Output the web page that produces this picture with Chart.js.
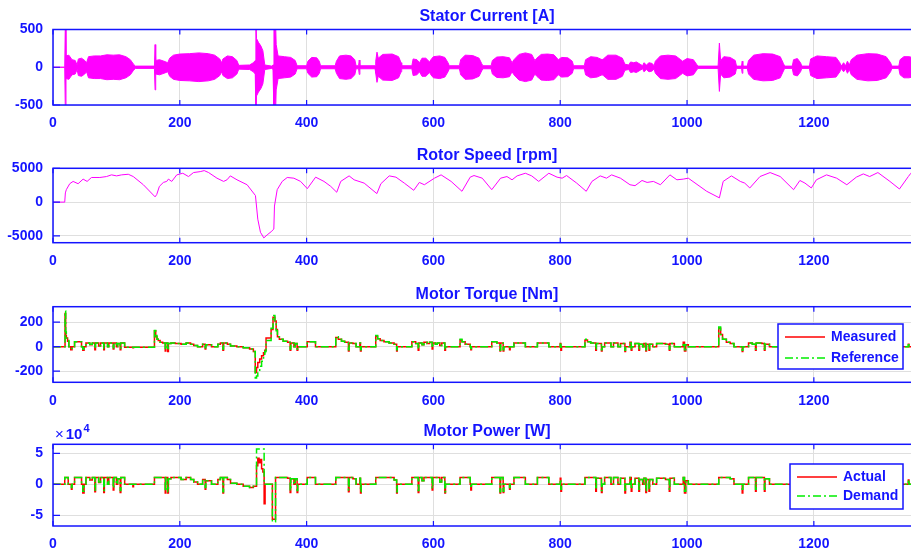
<!DOCTYPE html>
<html>
<head>
<meta charset="utf-8">
<script src="https://cdn.jsdelivr.net/npm/chart.js@4.4.1/dist/chart.umd.min.js"></script>
<style>
  html, body { margin: 0; padding: 0; background: #fff; }
  body { width: 911px; height: 555px; position: relative; overflow: hidden; }
  canvas { position: absolute; left: 0; display: block; }
</style>
</head>
<body>
<canvas id="current" width="925" height="136" style="top:0"></canvas>
<canvas id="speed" width="925" height="140" style="top:136px"></canvas>
<canvas id="torque" width="925" height="138" style="top:276px"></canvas>
<canvas id="power" width="925" height="141" style="top:414px"></canvas>
<script>
// time axis (s)
const timeMax = 1369;
const timeTicks = [0, 200, 400, 600, 800, 1000, 1200];

// stator current: amplitude envelope of the phase current [t, A]
const currentEnvelope = [
  [0,0],[18.5,0],[19.5,620],[20.5,150],[25,160],[30,100],[35,90],[38,30],[40,110],[45,120],[50,90],[53,60],
  [56,140],[65,150],[75,150],[85,165],[95,160],[105,165],[115,140],[122,100],[127,40],[130,15],[160,15],
  [161,300],[162,90],[168,100],[175,80],[181,60],[184,120],[190,160],[200,175],[215,180],[230,190],[245,180],
  [255,160],[263,110],[266,60],[268,110],[275,150],[283,140],[290,90],[293,25],[310,30],[316,60],[319,90],
  [320,620],[321,380],[324,330],[328,280],[331,220],[334,30],[345,15],[347,30],[348.5,620],[351,620],[352,300],
  [355,150],[365,140],[375,130],[382,90],[385,20],[400,20],[402,80],[408,130],[416,125],[420,80],[422,20],
  [445,20],[447,80],[452,150],[462,160],[470,150],[476,100],[478,20],[482,20],[483,95],[484,20],[508,20],
  [509,80],[511,200],[513,120],[520,170],[535,175],[545,140],[549,60],[550,20],[566,20],[568,110],[574,100],
  [578,60],[582,120],[588,120],[594,70],[596,100],[600,140],[610,150],[618,130],[623,60],[625,20],[641,20],
  [643,100],[650,160],[662,155],[672,120],[676,50],[678,20],[691,20],[693,90],[700,135],[710,140],[720,125],
  [724,60],[727,100],[735,170],[745,190],[755,170],[760,90],[763,120],[770,170],[780,175],[790,165],[797,100],
  [802,130],[812,125],[819,80],[821,20],[838,20],[840,100],[848,140],[858,130],[866,100],[868,110],[875,160],
  [888,160],[898,120],[902,40],[908,30],[911,70],[916,60],[920,70],[926,40],[930,20],[932,60],[936,30],
  [940,60],[945,50],[948,20],[950,80],[958,150],[970,160],[982,150],[990,100],[993,80],[1000,115],[1010,100],
  [1015,40],[1017,15],[1049,15],[1051,320],[1053,90],[1058,140],[1068,130],[1076,90],[1078,15],[1086,15],
  [1087,80],[1088,15],[1095,15],[1097,90],[1105,160],[1120,180],[1135,175],[1147,140],[1152,50],[1154,15],
  [1166,15],[1168,100],[1174,115],[1179,60],[1181,15],[1193,15],[1195,110],[1205,150],[1220,140],[1235,130],
  [1241,60],[1243,15],[1247,60],[1250,20],[1253,80],[1256,30],[1259,100],[1268,160],[1285,180],[1300,175],
  [1314,140],[1321,60],[1323,15],[1334,15],[1336,100],[1342,140],[1350,140],[1360,120],[1366,60],[1369,15]
];
const currentTicks = [-500, 0, 500];

// rotor speed [t, rpm]
const rotorSpeed = [
  [0,0],[18.5,0],[19.5,1360],[21,1840],[26.4,2720],[31.7,3060],[39.6,2720],[47.5,3400],[53.8,3060],[60.7,3640],
  [73.9,3640],[84.4,3780],[92.3,4030],[100.3,3880],[108.2,4030],[118.7,4120],[126.6,3780],[142.5,2570],[161,780],
  [163.6,1120],[167.8,2330],[174.1,2910],[179.4,3060],[182,3400],[187.3,3060],[195.2,4030],[204.7,4270],
  [213.7,3780],[221.6,4370],[232.2,4510],[238.5,4660],[245.4,4370],[258.6,3540],[269.1,3060],[274.4,3300],
  [279.7,3880],[290.2,3300],[306.1,2570],[319.3,970],[323,-2520],[327.2,-4460],[332.5,-5290],[337.7,-4850],
  [344.1,-4370],[348.3,-3980],[349.3,-580],[353.6,1840],[361.5,3060],[369.4,3640],[379.9,3540],[390.5,3060],
  [401.1,1990],[414.2,3690],[427.4,3060],[438,2330],[447.5,1460],[453.8,3060],[467,3880],[474.9,3300],
  [490.8,2810],[510.8,1260],[517.1,2720],[530.3,3880],[540.9,3690],[554.1,2810],[568.9,1750],[577.8,2910],
  [585.7,2570],[601.6,3540],[612.1,4030],[627.9,3060],[645,1600],[658,3690],[664,3930],[677,3540],[692,1840],
  [706,3540],[716,3780],[724,3300],[732,3880],[745,4270],[755,3880],[766,3060],[782,4270],[795,3690],[803,3540],
  [810,3930],[826,2810],[841,1600],[850,3060],[863,3880],[873,3540],[881,4030],[895,3540],[910,2570],[918,2430],
  [929,3200],[937,2910],[947,3060],[958,2570],[973,4030],[984,3300],[994,3400],[1002,3540],[1031,1600],[1051,630],
  [1057,3060],[1070,3880],[1084,3060],[1091,2810],[1099,2090],[1115,3780],[1131,4370],[1147,3780],[1168,1840],
  [1178,3200],[1186,2810],[1196,2090],[1204,3300],[1220,4030],[1236,3540],[1252,2570],[1267,3690],[1278,4170],
  [1288,3780],[1301,4370],[1320,3060],[1335,1940],[1349,3780],[1353,4270],[1362,3900],[1369,3600]
];
const speedTicks = [-5000, 0, 5000];

// motor torque [t, Nm]
const torqueReference = [
  [0,0],[19,290],[20,120],[21,70],[23,50],[25,0],[28,-15],[30,0],[34,40],[45,0],[47,-20],[49,0],[52,30],[58,20],
  [62,30],[66,-15],[67,30],[72,10],[75,30],[80,-15],[81,30],[86,0],[88,30],[95,-10],[96,30],[100,0],[102,25],
  [106,-15],[107,30],[113,-5],[160,145],[162,90],[164,60],[166,50],[169,35],[173,30],[177,-25],[178,30],[181,-30],
  [182,25],[186,30],[193,25],[202,20],[210,30],[217,20],[222,10],[228,0],[236,20],[240,-10],[241,15],[250,0],
  [260,20],[264,30],[268,-20],[269,30],[275,20],[280,5],[290,0],[300,-10],[310,-20],[316,-40],[319,-270],
  [321,-240],[323,-200],[326,-160],[329,-120],[332,-90],[334,-40],[336,50],[344,150],[347,255],[350,200],[352,130],
  [354,80],[357,60],[363,45],[370,35],[374,-20],[375,30],[380,0],[382,25],[385,-20],[386,0],[401,40],[414,0],
  [446,80],[450,60],[455,45],[460,35],[466,-25],[467,30],[473,25],[478,0],[484,30],[485,-25],[486,0],[509,90],
  [512,65],[516,50],[522,40],[530,30],[538,20],[542,-25],[543,0],[566,40],[572,25],[576,-20],[577,30],[582,15],
  [585,35],[590,25],[594,35],[598,-10],[599,30],[603,20],[606,30],[610,10],[613,30],[618,-20],[619,0],[642,60],
  [645,40],[650,20],[658,0],[659,-15],[660,0],[692,40],[700,30],[705,-30],[706,30],[710,-25],[711,0],[720,-15],
  [721,0],[727,30],[745,0],[764,30],[782,0],[800,20],[801,-20],[802,0],[839,60],[843,40],[848,30],[856,-20],
  [857,25],[865,-25],[866,0],[870,30],[880,0],[884,30],[891,0],[895,25],[902,-30],[903,0],[910,30],[912,-20],
  [913,0],[918,25],[924,-20],[925,20],[930,0],[932,25],[935,-25],[936,20],[940,-20],[941,20],[946,0],[952,25],
  [966,20],[972,-20],[973,25],[980,0],[994,30],[996,-25],[998,15],[1002,0],[1050,160],[1053,100],[1056,60],
  [1062,35],[1068,25],[1074,0],[1087,-30],[1088,0],[1097,30],[1103,20],[1108,-20],[1109,30],[1118,25],[1122,-20],
  [1123,20],[1130,0],[1167,30],[1180,0],[1194,40],[1205,25],[1241,0],[1259,40],[1270,30],[1290,20],[1321,0],
  [1349,15],[1350,0],[1369,0]
];
const torqueMeasured = [
  [0,0],[19,270],[20,90],[21,70],[23,45],[25,0],[28,-25],[30,0],[34,40],[45,0],[47,-30],[49,0],[52,30],[58,15],
  [62,30],[66,-25],[67,30],[72,5],[75,30],[80,-25],[81,30],[86,0],[88,30],[95,-20],[96,30],[100,0],[102,25],
  [106,-25],[107,30],[113,-5],[126,-10],[127,-5],[160,130],[162,80],[164,60],[166,50],[169,35],[173,30],[177,-35],
  [178,30],[181,-40],[182,25],[186,30],[193,25],[202,20],[210,30],[217,20],[222,10],[228,0],[236,20],[240,-20],
  [241,15],[250,0],[260,20],[264,30],[268,-30],[269,30],[275,20],[280,5],[290,0],[300,-10],[310,-20],[316,-40],
  [319,-210],[321,-170],[323,-130],[326,-100],[329,-75],[332,-50],[334,-30],[336,70],[344,140],[347,240],[350,210],
  [352,140],[354,80],[357,60],[363,45],[370,35],[374,-30],[375,30],[380,0],[382,25],[385,-30],[386,0],[401,40],
  [414,0],[446,75],[450,60],[455,45],[460,35],[466,-35],[467,30],[473,25],[478,0],[484,30],[485,-35],[486,0],
  [509,85],[512,65],[516,50],[522,40],[530,30],[538,20],[542,-35],[543,0],[566,40],[572,25],[576,-30],[577,30],
  [582,15],[585,35],[590,25],[594,35],[598,-20],[599,30],[603,20],[606,30],[610,10],[613,30],[618,-30],[619,0],
  [642,55],[645,40],[650,20],[658,0],[659,-25],[660,0],[692,40],[700,30],[705,-35],[706,30],[710,-35],[711,0],
  [720,-25],[721,0],[727,30],[745,0],[764,30],[782,0],[800,25],[801,-30],[802,0],[839,55],[843,40],[848,30],
  [856,-30],[857,25],[865,-35],[866,0],[870,30],[880,0],[884,30],[891,0],[895,25],[902,-40],[903,0],[910,35],
  [912,-30],[913,0],[918,25],[924,-30],[925,20],[930,0],[932,25],[935,-35],[936,20],[940,-30],[941,20],[946,0],
  [952,25],[966,20],[972,-30],[973,25],[980,0],[994,35],[996,-35],[998,15],[1002,0],[1050,150],[1053,100],
  [1056,60],[1062,35],[1068,25],[1074,0],[1087,-40],[1088,0],[1097,30],[1103,20],[1108,-30],[1109,30],[1118,25],
  [1122,-30],[1123,20],[1130,0],[1167,30],[1180,0],[1194,40],[1205,25],[1241,0],[1259,40],[1270,30],[1290,20],
  [1321,0],[1349,20],[1350,0],[1369,0]
];
const torqueTicks = [-200, 0, 200];

// motor power [t, W]
const powerDemand = [
  [0,0],[18.5,11000],[24,0],[29,-5000],[30,0],[34,11000],[45,0],[47,-11000],[49,0],[52,11000],[58,8000],[62,11000],
  [66,-9000],[67,11000],[72,4000],[75,11000],[80,-10000],[81,11000],[86,0],[88,11000],[95,-6000],[96,11000],[100,0],
  [102,9000],[106,-10000],[107,11000],[113,0],[160,11000],[177,-11000],[178,11000],[181,-12000],[182,9000],
  [186,11000],[202,8000],[210,11000],[217,8000],[222,4000],[228,0],[236,8000],[240,-5000],[241,6000],[250,0],
  [260,8000],[264,11000],[268,-12000],[269,11000],[275,8000],[280,2000],[290,0],[300,-3000],[310,-5000],
  [316,-3000],[321,57000],[333,0],[346,-60000],[351,11000],[370,10000],[374,-10000],[375,9000],[380,0],[382,9000],
  [385,-10000],[386,0],[401,11000],[414,0],[446,11000],[466,-9000],[467,11000],[473,9000],[478,0],[484,10000],
  [485,-12000],[486,0],[509,11000],[538,7000],[542,-12000],[543,0],[566,11000],[576,-10000],[577,11000],[582,6000],
  [585,11000],[598,-6000],[599,11000],[610,4000],[613,11000],[618,-12000],[619,0],[642,11000],[658,0],[659,-6000],
  [660,0],[692,11000],[705,-12000],[706,11000],[710,-11000],[711,0],[720,-5000],[721,0],[727,11000],[745,0],
  [764,11000],[782,0],[800,8000],[801,-8000],[802,0],[839,11000],[856,-8000],[857,10000],[865,-10000],[866,0],
  [870,11000],[880,0],[884,11000],[891,0],[895,10000],[902,-12000],[903,0],[910,11000],[912,-8000],[913,0],
  [918,10000],[924,-8000],[925,8000],[930,0],[932,10000],[935,-10000],[936,8000],[940,-8000],[941,8000],[946,0],
  [952,10000],[966,8000],[972,-8000],[973,10000],[980,0],[994,11000],[996,-11000],[998,6000],[1002,0],[1050,11000],
  [1068,9000],[1074,0],[1087,-11000],[1088,0],[1097,11000],[1108,-8000],[1109,11000],[1122,-8000],[1123,9000],
  [1130,0],[1167,11000],[1180,0],[1194,11000],[1241,0],[1259,11000],[1321,0],[1349,5000],[1350,0],[1369,0]
];
const powerActual = [
  [0,0],[18.5,11000],[24,0],[29,-8000],[30,0],[34,11000],[45,0],[47,-14000],[49,0],[52,11000],[58,7000],[62,11000],
  [66,-12000],[67,11000],[72,3000],[75,11000],[80,-13000],[81,11000],[86,0],[88,11000],[95,-9000],[96,11000],
  [100,0],[102,9000],[106,-13000],[107,11000],[113,0],[126,-4000],[127,0],[160,11000],[177,-14000],[178,11000],
  [181,-14000],[182,9000],[186,11000],[202,8000],[210,11000],[217,8000],[222,4000],[228,0],[236,8000],[240,-8000],
  [241,6000],[250,0],[260,8000],[264,11000],[268,-14000],[269,11000],[275,8000],[280,2000],[290,0],[300,-3000],
  [310,-5000],[316,-3000],[321,30000],[323,42000],[325,35000],[327,40000],[329,25000],[331,20000],[333,-31000],
  [334.5,0],[346,-56000],[351,11000],[370,10000],[374,-13000],[375,9000],[380,0],[382,9000],[385,-13000],[386,0],
  [401,11000],[414,0],[446,11000],[466,-12000],[467,11000],[473,9000],[478,0],[484,10000],[485,-14000],[486,0],
  [509,11000],[538,7000],[542,-14000],[543,0],[566,11000],[576,-13000],[577,11000],[582,6000],[585,11000],
  [598,-9000],[599,11000],[610,4000],[613,11000],[618,-14000],[619,0],[642,11000],[658,0],[659,-9000],[660,0],
  [692,11000],[705,-14000],[706,11000],[710,-13000],[711,0],[720,-8000],[721,0],[727,11000],[745,0],[764,11000],
  [782,0],[800,10000],[801,-11000],[802,0],[839,11000],[856,-11000],[857,10000],[865,-13000],[866,0],[870,11000],
  [880,0],[884,11000],[891,0],[895,10000],[902,-14000],[903,0],[910,11000],[912,-11000],[913,0],[918,10000],
  [924,-11000],[925,8000],[930,0],[932,10000],[935,-13000],[936,8000],[940,-11000],[941,8000],[946,0],[952,10000],
  [966,8000],[972,-11000],[973,10000],[980,0],[994,11000],[996,-14000],[998,6000],[1002,0],[1050,11000],[1068,9000],
  [1074,0],[1087,-14000],[1088,0],[1097,11000],[1108,-11000],[1109,11000],[1122,-11000],[1123,9000],[1130,0],
  [1167,11000],[1180,0],[1194,11000],[1241,0],[1259,11000],[1321,0],[1349,7000],[1350,0],[1369,0]
];
const powerTicks = [-50000, 0, 50000];

const BLUE = '#1414ff';
const GRID = '#dfdfdf';
const MAGENTA = '#ff00ff';
const RED = '#ff0000';
const GREEN = '#00ee00';
const FONT = "'Liberation Sans', Arial, sans-serif";

const toXY = pairs => pairs.map(([x, y]) => ({ x: x, y: y }));

// MATLAB-like axes box, inward ticks, title, exponent and legend box
const matlabFrame = {
  id: 'matlabFrame',
  afterDatasetsDraw(chart, args, opts) {
    const { ctx, chartArea: a } = chart;
    const x = chart.scales.x, y = chart.scales.y;
    ctx.save();
    ctx.strokeStyle = BLUE;
    ctx.lineWidth = 1.5;
    ctx.strokeRect(a.left, a.top, a.right - a.left, a.bottom - a.top);
    ctx.lineWidth = 1.2;
    ctx.beginPath();
    x.ticks.forEach(t => {
      const px = x.getPixelForValue(t.value);
      ctx.moveTo(px, a.bottom); ctx.lineTo(px, a.bottom - 5);
      ctx.moveTo(px, a.top); ctx.lineTo(px, a.top + 5);
    });
    y.ticks.forEach(t => {
      const py = y.getPixelForValue(t.value);
      ctx.moveTo(a.left, py); ctx.lineTo(a.left + 7, py);
    });
    ctx.stroke();

    ctx.fillStyle = BLUE;
    ctx.font = 'bold 16px ' + FONT;
    ctx.textAlign = 'center';
    ctx.textBaseline = 'middle';
    ctx.fillText(opts.title, (a.left + a.right) / 2, a.top - 12.5);

    if (opts.exponent) {
      // "×10" with a superscript exponent, MATLAB style
      ctx.textAlign = 'left';
      let cx = a.left + 2;
      ctx.font = '15px ' + FONT;
      ctx.fillText('\u00d7', cx, a.top - 9);
      cx += ctx.measureText('\u00d7').width + 2;
      ctx.font = 'bold 15px ' + FONT;
      ctx.fillText('10', cx, a.top - 9);
      cx += ctx.measureText('10').width + 1;
      ctx.font = 'bold 11px ' + FONT;
      ctx.fillText(opts.exponent, cx, a.top - 15);
    }

    const L = opts.legend;
    if (L) {
      const left = a.right - 18 - L.width;
      const top = a.top + L.top;
      ctx.fillStyle = '#fff';
      ctx.fillRect(left, top, L.width, L.height);
      ctx.strokeStyle = BLUE;
      ctx.lineWidth = 1.5;
      ctx.strokeRect(left, top, L.width, L.height);
      chart.data.datasets.forEach((ds, i) => {
        const yy = top + 13 + i * L.rowGap;
        ctx.strokeStyle = ds.borderColor;
        ctx.lineWidth = 1.5;
        ctx.setLineDash(ds.borderDash || []);
        ctx.beginPath();
        ctx.moveTo(left + 7, yy);
        ctx.lineTo(left + 47, yy);
        ctx.stroke();
        ctx.setLineDash([]);
        ctx.fillStyle = BLUE;
        ctx.font = 'bold 14px ' + FONT;
        ctx.textAlign = 'left';
        ctx.textBaseline = 'middle';
        ctx.fillText(ds.label, left + 53, yy);
      });
    }
    ctx.restore();
  }
};

function makeChart(id, cfg) {
  const tickFont = { family: FONT, size: 14, weight: 'bold' };
  return new Chart(document.getElementById(id), {
    type: 'line',
    data: { datasets: cfg.datasets },
    options: {
      responsive: false,
      animation: false,
      events: [],
      layout: { padding: { top: cfg.padTop, right: 4, left: 0, bottom: 0 } },
      elements: { point: { radius: 0 }, line: { tension: 0 } },
      plugins: {
        legend: { display: false },
        tooltip: { enabled: false },
        matlabFrame: { title: cfg.title, legend: cfg.legend, exponent: cfg.exponent }
      },
      scales: {
        x: {
          type: 'linear',
          min: 0,
          max: timeMax,
          afterBuildTicks: s => { s.ticks = timeTicks.map(v => ({ value: v })); },
          afterFit: s => { s.height = cfg.xHeight; },
          grid: { color: GRID, drawTicks: false },
          border: { display: false },
          ticks: { color: BLUE, font: tickFont, padding: 10, maxRotation: 0, autoSkip: false, callback: v => String(v) }
        },
        y: {
          type: 'linear',
          min: cfg.yMin,
          max: cfg.yMax,
          afterBuildTicks: s => { s.ticks = cfg.yTicks.map(v => ({ value: v })); },
          afterFit: s => { s.width = 53; },
          grid: { color: GRID, drawTicks: false },
          border: { display: false },
          ticks: { color: BLUE, font: tickFont, padding: 10, autoSkip: false, callback: cfg.yFormat || (v => String(v)) }
        }
      }
    },
    plugins: [matlabFrame]
  });
}

makeChart('current', {
  title: 'Stator Current [A]',
  padTop: 29.5, xHeight: 31,
  yMin: -500, yMax: 500, yTicks: currentTicks,
  datasets: [
    { label: 'envelope+', data: toXY(currentEnvelope), borderColor: MAGENTA, backgroundColor: MAGENTA,
      borderWidth: 1, fill: '+1', clip: 0 },
    { label: 'envelope-', data: currentEnvelope.map(([x, y]) => ({ x: x, y: -y })), borderColor: MAGENTA,
      backgroundColor: MAGENTA, borderWidth: 1, fill: false, clip: 0 }
  ]
});

makeChart('speed', {
  title: 'Rotor Speed [rpm]',
  padTop: 32.3, xHeight: 33.3,
  yMin: -6000, yMax: 5000, yTicks: speedTicks,
  datasets: [
    { label: 'Rotor Speed', data: toXY(rotorSpeed), borderColor: MAGENTA, borderWidth: 1, fill: false, clip: 0 }
  ]
});

makeChart('torque', {
  title: 'Motor Torque [Nm]',
  padTop: 30.7, xHeight: 31.7,
  yMin: -291, yMax: 326, yTicks: torqueTicks,
  legend: { width: 125, height: 45, top: 17.3, rowGap: 21 },
  datasets: [
    { label: 'Measured', data: toXY(torqueMeasured), borderColor: RED, borderWidth: 1.5, stepped: true,
      fill: false, clip: 0, order: 1 },
    { label: 'Reference', data: toXY(torqueReference), borderColor: GREEN, borderWidth: 1.5, stepped: true,
      borderDash: [8, 3, 2, 3], fill: false, clip: 0, order: 0 }
  ]
});

makeChart('power', {
  title: 'Motor Power [W]',
  padTop: 30.3, xHeight: 29,
  yMin: -67000, yMax: 64500, yTicks: powerTicks,
  yFormat: v => String(v / 10000),
  exponent: '4',
  legend: { width: 113, height: 45, top: 19.7, rowGap: 19 },
  datasets: [
    { label: 'Actual', data: toXY(powerActual), borderColor: RED, borderWidth: 1.5, stepped: true,
      fill: false, clip: 0, order: 1 },
    { label: 'Demand', data: toXY(powerDemand), borderColor: GREEN, borderWidth: 1.5, stepped: true,
      borderDash: [8, 3, 2, 3], fill: false, clip: 0, order: 0 }
  ]
});
</script>
</body>
</html>
